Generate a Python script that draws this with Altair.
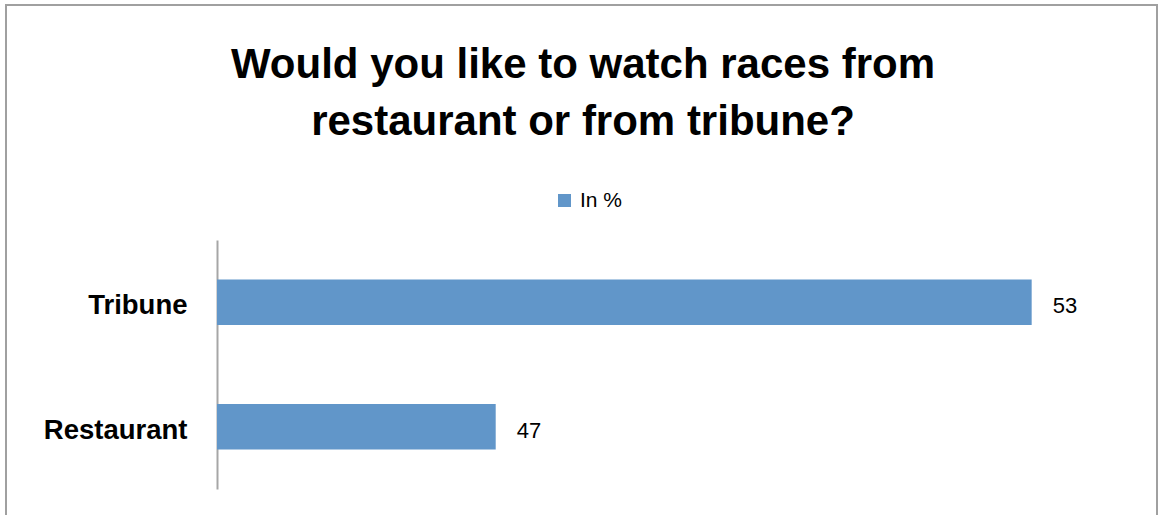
import altair as alt
import pandas as pd

categories = ["Tribune", "Restaurant"]
values = [53, 47]
series = ["In %", "In %"]

df = pd.DataFrame({"answer": categories, "value": values, "series": series})

PLOT_LEFT = 217
PLOT_TOP = 240
PLOT_W = 904
PLOT_H = 249

base = alt.Chart(df)

bars = base.mark_bar(color="#6196c9", clip=True).encode(
    x=alt.X("value:Q", scale=alt.Scale(domain=[43.88, 54], zero=False, nice=False),
            axis=None),
    y=alt.Y("answer:N", sort=categories,
            scale=alt.Scale(paddingInner=0.635, paddingOuter=0.3175),
            axis=alt.Axis(title=None, labelFont="Liberation Sans", labelFontWeight="bold",
                          labelFontSize=27.5, labelColor="#000000", labelPadding=30,
                          labelOffset=4,
                          ticks=False, domain=True, domainColor="#a6a6a6",
                          domainWidth=2, grid=False)),
    color=alt.Color("series:N", scale=alt.Scale(range=["#6196c9"]),
                    legend=alt.Legend(title=None, orient="none", legendX=337, legendY=-50,
                                      symbolType="square", symbolSize=170,
                                      symbolStrokeWidth=0,
                                      labelFont="Liberation Sans", labelFontSize=21,
                                      labelColor="#000000", labelOffset=5)),
)

labels = base.mark_text(align="left", dx=21, dy=4, font="Liberation Sans", fontSize=22,
                        color="#000000").encode(
    x=alt.X("value:Q"),
    y=alt.Y("answer:N", sort=categories),
    text=alt.Text("value:Q"),
)

frame = alt.Chart(pd.DataFrame({"k": [0]})).mark_rect(
    fill=None, stroke="#a0a0a0", strokeWidth=2
).encode(
    x=alt.value(6 - PLOT_LEFT), x2=alt.value(1157 - PLOT_LEFT),
    y=alt.value(5 - PLOT_TOP), y2=alt.value(530 - PLOT_TOP),
)

chart = alt.layer(frame, bars, labels).properties(
    width=PLOT_W, height=PLOT_H,
    autosize=alt.AutoSizeParams(type="none"),
    padding={"left": PLOT_LEFT, "top": PLOT_TOP,
             "right": 1159 - PLOT_LEFT - PLOT_W, "bottom": 515 - PLOT_TOP - PLOT_H},
    title=alt.TitleParams(
        ["Would you like to watch races from", "restaurant or from tribune?"],
        font="Liberation Sans", fontSize=42, fontWeight="bold", color="#000000",
        anchor="middle", frame="group", dx=-86, offset=-140, lineHeight=57,
    ),
).configure(background="#ffffff").configure_view(stroke=None, strokeWidth=0)

chart.save("out.html", embed_options={"renderer": "svg", "actions": False})
